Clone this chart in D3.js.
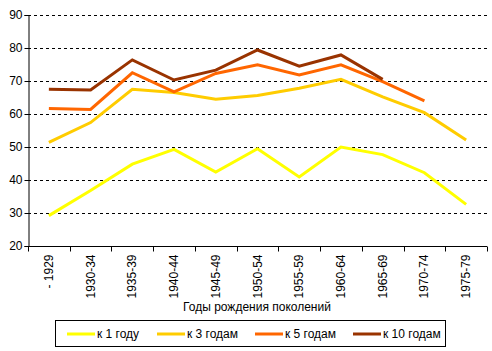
<!DOCTYPE html>
<html>
<head>
<meta charset="utf-8">
<script src="https://cdn.jsdelivr.net/npm/d3@7"></script>
<style>
  body { margin: 0; background: #fff; }
  svg text { font-family: "Liberation Sans", Arial, sans-serif; font-size: 12px; fill: #000; }
</style>
</head>
<body>
<div id="chart"></div>
<script>
// categories (birth years of generations)
const cohorts = ["- 1929", "1930-34", "1935-39", "1940-44", "1945-49", "1950-54",
                 "1955-59", "1960-64", "1965-69", "1970-74", "1975-79"];

// series values, null = no data
const by1 = [29.2, 36.8, 44.8, 49.3, 42.4, 49.5, 40.9, 50.0, 47.7, 42.2, 32.6];
const by3 = [51.4, 57.4, 67.5, 66.5, 64.5, 65.6, 67.8, 70.5, 65.2, 60.4, 52.1];
const by5 = [61.7, 61.4, 72.5, 66.7, 72.3, 74.9, 71.8, 74.9, 69.8, 64.0, null];
const by10 = [67.5, 67.3, 76.4, 70.3, 73.3, 79.4, 74.5, 77.9, 70.5, null, null];

const seriesNames = ["к 1 году", "к 3 годам", "к 5 годам", "к 10 годам"];
const seriesColors = ["#ffff00", "#ffcc00", "#ff6600", "#993300"];
const yTicks = [20, 30, 40, 50, 60, 70, 80, 90];

const series = [by1, by3, by5, by10].map((values, i) => ({
    name: seriesNames[i], color: seriesColors[i], values
}));

const width = 492, height = 351;
const margin = { top: 15, right: 5, bottom: 105, left: 28 };

const svg = d3.select("#chart").append("svg")
    .attr("width", width)
    .attr("height", height);

// Scales
const x = d3.scaleBand()
    .domain(cohorts)
    .range([margin.left, width - margin.right]);

const y = d3.scaleLinear()
    .domain([20, 90])
    .range([height - margin.bottom, margin.top]);

// Dashed gridlines
svg.append("g")
    .selectAll("line")
    .data(yTicks.filter(d => d > 20))
    .join("line")
    .attr("x1", margin.left)
    .attr("x2", width - margin.right)
    .attr("y1", d => Math.round(y(d)) + 0.5)
    .attr("y2", d => Math.round(y(d)) + 0.5)
    .attr("stroke", "#000")
    .attr("stroke-dasharray", "3,3");

// Y axis
const yAxis = svg.append("g")
    .attr("transform", `translate(${margin.left + 0.5},0)`)
    .call(d3.axisLeft(y).tickValues(yTicks).tickSize(4).tickPadding(2));
yAxis.select(".domain").attr("stroke", "#000");
yAxis.selectAll("text").style("font-size", "12px").style("font-family", null);

// X axis with tick marks at band boundaries
const xAxisY = Math.round(y(20)) + 0.5;
const xAxis = svg.append("g")
    .attr("transform", `translate(0,${xAxisY})`);
xAxis.append("line")
    .attr("x1", margin.left)
    .attr("x2", width - margin.right)
    .attr("stroke", "#000");
xAxis.selectAll(".tick-mark")
    .data(cohorts.concat([null]))
    .join("line")
    .attr("class", "tick-mark")
    .attr("x1", (d, i) => Math.round(margin.left + i * x.step()) + 0.5)
    .attr("x2", (d, i) => Math.round(margin.left + i * x.step()) + 0.5)
    .attr("y1", 0)
    .attr("y2", 5)
    .attr("stroke", "#000");
xAxis.selectAll(".tick-label")
    .data(cohorts)
    .join("text")
    .attr("class", "tick-label")
    .attr("transform", d => `translate(${x(d) + x.bandwidth() / 2 + 4},8) rotate(-90)`)
    .attr("text-anchor", "end")
    .text(d => d);

// Axis title
svg.append("text")
    .attr("x", 257)
    .attr("y", 311)
    .attr("text-anchor", "middle")
    .text("Годы рождения поколений");

// Lines
const line = d3.line()
    .defined(d => d != null)
    .x((d, i) => x(cohorts[i]) + x.bandwidth() / 2)
    .y(d => y(d));

svg.append("g")
    .selectAll("path")
    .data(series)
    .join("path")
    .attr("fill", "none")
    .attr("stroke", d => d.color)
    .attr("stroke-width", 3)
    .attr("stroke-linejoin", "miter")
    .attr("d", d => line(d.values));

// Legend
const legend = svg.append("g");
legend.append("rect")
    .attr("x", 55.5)
    .attr("y", 320.5)
    .attr("width", 390)
    .attr("height", 26)
    .attr("fill", "#fff")
    .attr("stroke", "#000");

const legendX = [67, 157, 255, 353];
const items = legend.selectAll(".item")
    .data(series)
    .join("g")
    .attr("class", "item")
    .attr("transform", (d, i) => `translate(${legendX[i]},334)`);
items.append("line")
    .attr("x1", 0)
    .attr("x2", 28)
    .attr("stroke", d => d.color)
    .attr("stroke-width", 3);
items.append("text")
    .attr("x", 30)
    .attr("y", 4)
    .text(d => d.name);
</script>
</body>
</html>
